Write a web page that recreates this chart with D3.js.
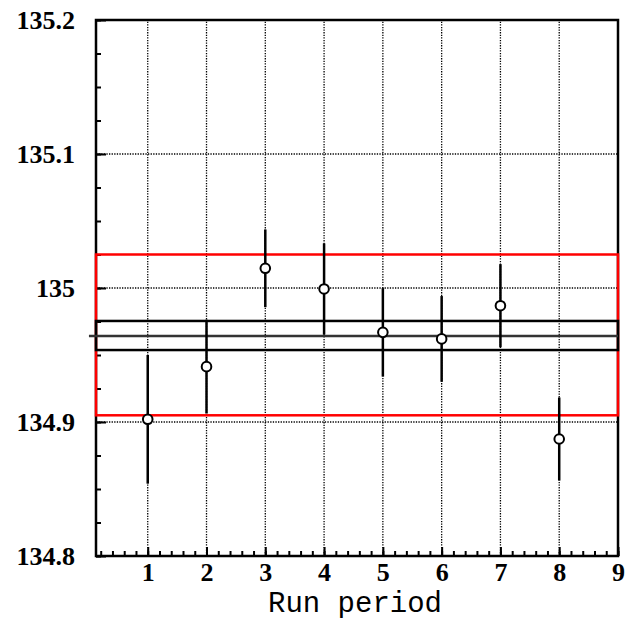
<!DOCTYPE html>
<html>
<head>
<meta charset="utf-8">
<script src="https://cdn.jsdelivr.net/npm/d3@7"></script>
<style>
  body { margin: 0; background: #fff; }
</style>
</head>
<body>
<div id="chart"></div>
<script>
const period = [1, 2, 3, 4, 5, 6, 7, 8];
const mass = [134.902, 134.9413, 135.0147, 134.9993, 134.9669, 134.962, 134.9868, 134.8873];
const err = [0.048, 0.035, 0.029, 0.034, 0.033, 0.032, 0.031, 0.031];

const xTicks = [1, 2, 3, 4, 5, 6, 7, 8, 9];
const yTicks = [134.8, 134.9, 135, 135.1, 135.2];
const yTickLabels = ["134.8", "134.9", "135", "135.1", "135.2"];

const redBand = [134.905, 135.025];
const blackBand = [134.9537, 134.9754];
const meanValue = 134.9642;

const width = 626,
  height = 620,
  margin = {top: 20, right: 8, bottom: 64, left: 96};

const x = d3.scaleLinear().domain([0.12, 9]).range([margin.left, width - margin.right]);
const y = d3.scaleLinear().domain([134.8, 135.2]).range([height - margin.bottom, margin.top]);

const svg = d3.select("#chart")
  .append("svg")
  .attr("width", width)
  .attr("height", height);

// dotted grid
const grid = svg.append("g")
  .attr("stroke", "#000")
  .attr("stroke-width", 1.3)
  .attr("stroke-dasharray", "1.3,1.3");

grid.selectAll("line.v")
  .data(xTicks.slice(0, -1))
  .join("line")
  .attr("x1", d => x(d)).attr("x2", d => x(d))
  .attr("y1", y(134.8)).attr("y2", y(135.2));

grid.selectAll("line.h")
  .data(yTicks.slice(1, -1))
  .join("line")
  .attr("class", "h")
  .attr("x1", x(0.12)).attr("x2", x(9))
  .attr("y1", d => y(d)).attr("y2", d => y(d));

const labelFont = "'Liberation Serif', 'Times New Roman', serif";

// axes
const yMinor = d3.range(134.8, 135.2001, 0.025);
svg.append("g")
  .attr("transform", `translate(${margin.left},0)`)
  .call(d3.axisLeft(y).tickValues(yMinor).tickSize(-5).tickFormat(""))
  .call(g => g.select(".domain").remove())
  .call(g => g.selectAll("line").attr("stroke-width", 2));

svg.append("g")
  .attr("transform", `translate(${margin.left},0)`)
  .call(d3.axisLeft(y).tickValues(yTicks).tickSizeInner(-10).tickSizeOuter(0)
    .tickPadding(21).tickFormat((d, i) => yTickLabels[i]))
  .call(g => g.select(".domain").remove())
  .call(g => g.selectAll("line").attr("stroke-width", 2))
  .call(g => g.selectAll("text")
    .attr("font-family", labelFont)
    .attr("font-weight", "bold")
    .attr("font-size", 26)
    .attr("fill", "#000"));

const xMinor = d3.range(0.2, 9.0001, 0.2);
svg.append("g")
  .attr("transform", `translate(0,${height - margin.bottom})`)
  .call(d3.axisBottom(x).tickValues(xMinor).tickSize(-5).tickFormat(""))
  .call(g => g.select(".domain").remove())
  .call(g => g.selectAll("line").attr("stroke-width", 2));

svg.append("g")
  .attr("transform", `translate(0,${height - margin.bottom})`)
  .call(d3.axisBottom(x).tickValues(xTicks).tickSizeInner(-9).tickSizeOuter(0)
    .tickPadding(7).tickFormat(d3.format("d")))
  .call(g => g.select(".domain").remove())
  .call(g => g.selectAll("line").attr("stroke-width", 2))
  .call(g => g.selectAll("text")
    .attr("font-family", labelFont)
    .attr("font-weight", "bold")
    .attr("font-size", 26)
    .attr("fill", "#000"));

// frame
svg.append("rect")
  .attr("x", x(0.12)).attr("y", y(135.2))
  .attr("width", x(9) - x(0.12))
  .attr("height", y(134.8) - y(135.2))
  .attr("fill", "none")
  .attr("stroke", "#000")
  .attr("stroke-width", 2.5);

// bands
svg.append("rect")
  .attr("x", x(0.12)).attr("y", y(redBand[1]))
  .attr("width", x(9) - x(0.12))
  .attr("height", y(redBand[0]) - y(redBand[1]))
  .attr("fill", "none")
  .attr("stroke", "#ff0000")
  .attr("stroke-width", 2.5);

svg.append("rect")
  .attr("x", x(0.12)).attr("y", y(blackBand[1]))
  .attr("width", x(9) - x(0.12))
  .attr("height", y(blackBand[0]) - y(blackBand[1]))
  .attr("fill", "none")
  .attr("stroke", "#000")
  .attr("stroke-width", 2.5);

svg.append("line")
  .attr("x1", x(0)).attr("x2", x(9))
  .attr("y1", y(meanValue)).attr("y2", y(meanValue))
  .attr("stroke", "#333")
  .attr("stroke-width", 2.5);

// points with error bars
const pts = period.map((p, i) => ({p, m: mass[i], e: err[i]}));

svg.append("g")
  .attr("stroke", "#000")
  .attr("stroke-width", 2.5)
  .selectAll("line")
  .data(pts)
  .join("line")
  .attr("x1", d => x(d.p)).attr("x2", d => x(d.p))
  .attr("y1", d => y(d.m + d.e)).attr("y2", d => y(d.m - d.e));

svg.append("g")
  .selectAll("circle")
  .data(pts)
  .join("circle")
  .attr("cx", d => x(d.p))
  .attr("cy", d => y(d.m))
  .attr("r", 4.8)
  .attr("fill", "#fff")
  .attr("stroke", "#000")
  .attr("stroke-width", 2);

// axis title
svg.append("text")
  .attr("x", (x(0.12) + x(9)) / 2 - 2)
  .attr("y", 612)
  .attr("text-anchor", "middle")
  .attr("font-family", "'Liberation Mono', 'Courier New', monospace")
  .attr("font-size", 29)
  .attr("fill", "#000")
  .text("Run period");
</script>
</body>
</html>
